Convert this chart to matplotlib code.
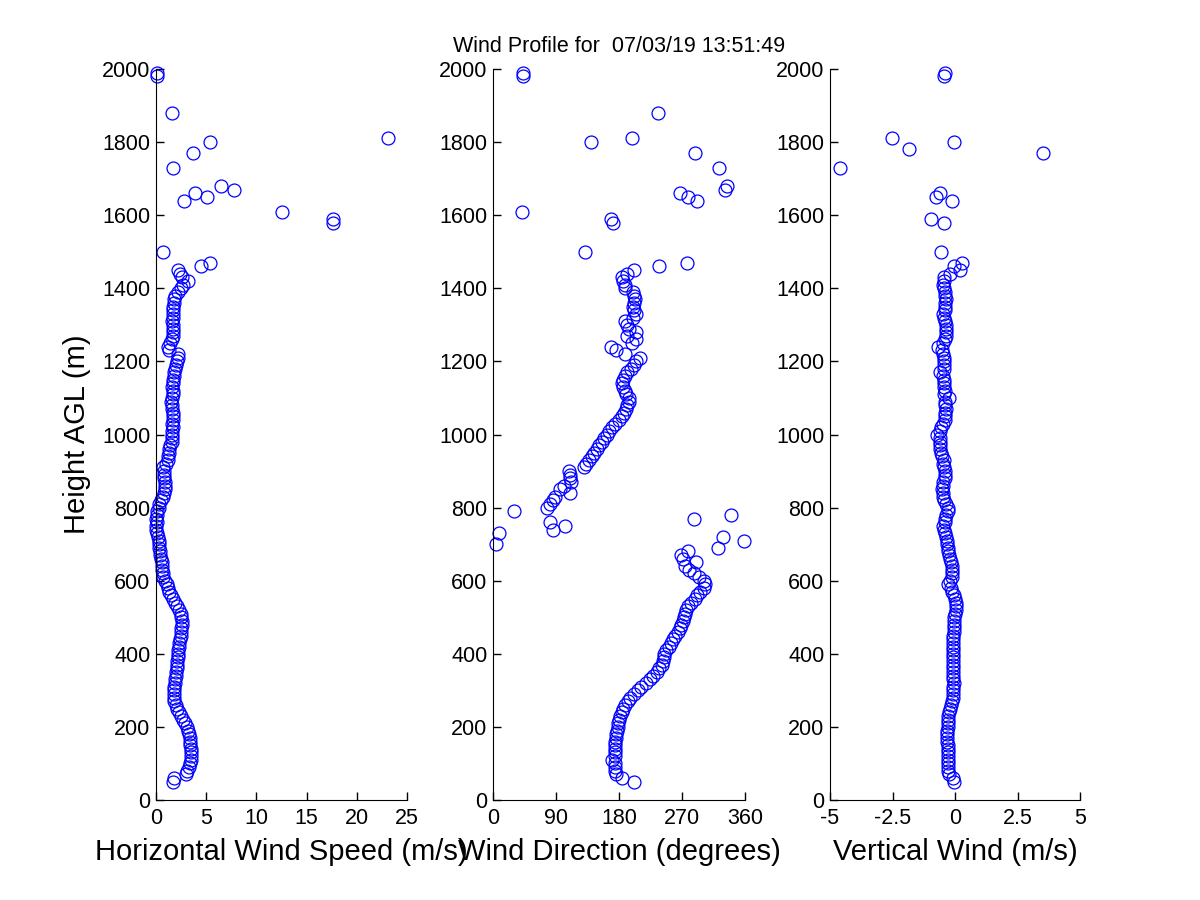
import numpy as np
import matplotlib
matplotlib.use("Agg")
import matplotlib.pyplot as plt

nan = np.nan

# range gates (m AGL)
alturas = [
    50, 60, 70, 80, 90, 100, 110, 120, 130, 140,
    150, 160, 170, 180, 190, 200, 210, 220, 230, 240,
    250, 260, 270, 280, 290, 300, 310, 320, 330, 340,
    350, 360, 370, 380, 390, 400, 410, 420, 430, 440,
    450, 460, 470, 480, 490, 500, 510, 520, 530, 540,
    550, 560, 570, 580, 590, 600, 610, 620, 630, 640,
    650, 660, 670, 680, 690, 700, 710, 720, 730, 740,
    750, 760, 770, 780, 790, 800, 810, 820, 830, 840,
    850, 860, 870, 880, 890, 900, 910, 920, 930, 940,
    950, 960, 970, 980, 990, 1000, 1010, 1020, 1030, 1040,
    1050, 1060, 1070, 1080, 1090, 1100, 1110, 1120, 1130, 1140,
    1150, 1160, 1170, 1180, 1190, 1200, 1210, 1220, 1230, 1240,
    1250, 1260, 1270, 1280, 1290, 1300, 1310, 1320, 1330, 1340,
    1350, 1360, 1370, 1380, 1390, 1400, 1410, 1420, 1430, 1440,
    1450, 1460, 1470, 1500, 1580, 1590, 1610, 1640, 1650, 1660,
    1670, 1680, 1730, 1770, 1780, 1800, 1810, 1880, 1980, 1990,
]

# horizontal wind speed (m/s)
velocidad = [
    1.7, 1.8, 3.0, 3.1, 3.3, 3.4, 3.5, 3.5, 3.5, 3.5,
    3.4, 3.4, 3.4, 3.3, 3.2, 3.1, 2.9, 2.7, 2.5, 2.3,
    2.1, 2.0, 1.8, 1.8, 1.8, 1.8, 1.8, 1.9, 1.9, 2.0,
    2.0, 2.1, 2.1, 2.1, 2.2, 2.2, 2.2, 2.3, 2.3, 2.4,
    2.5, 2.5, 2.5, 2.6, 2.6, 2.5, 2.5, 2.3, 2.1, 1.9,
    1.7, 1.5, 1.3, 1.2, 1.1, 0.9, 0.7, 0.7, 0.6, 0.6,
    0.6, 0.5, 0.4, 0.4, 0.3, 0.3, 0.3, 0.2, 0.1, 0.0,
    0.0, 0.1, 0.0, 0.1, 0.1, 0.3, 0.3, 0.5, 0.7, 0.8,
    0.9, 0.9, 0.9, 0.8, 0.8, 0.8, 0.7, 1.0, 1.2, 1.2,
    1.3, 1.3, 1.4, 1.6, 1.6, 1.6, 1.6, 1.7, 1.6, 1.7,
    1.7, 1.7, 1.6, 1.6, 1.5, 1.6, 1.7, 1.7, 1.6, 1.7,
    1.7, 1.8, 1.8, 1.9, 2.0, 2.1, 2.2, 2.2, 1.3, 1.2,
    1.4, 1.6, 1.7, 1.7, 1.7, 1.7, 1.6, 1.7, 1.7, 1.7,
    1.7, 1.8, 1.8, 1.9, 2.2, 2.5, 2.7, 3.2, 2.6, 2.4,
    2.2, 4.5, 5.4, 0.7, 17.6, 17.6, 12.5, 2.8, 5.1, 3.9,
    7.8, 6.5, 1.7, 3.7, nan, 5.4, 23.1, 1.6, 0.1, 0.1,
]

# wind direction (degrees)
direccion = [
    202, 185, 176, 175, 175, 175, 170, 175, 174, 174,
    175, 175, 176, 176, 177, 178, 179, 180, 182, 184,
    186, 189, 193, 196, 202, 207, 212, 219, 224, 229,
    234, 237, 241, 243, 244, 245, 247, 251, 254, 257,
    260, 264, 267, 268, 271, 273, 274, 276, 279, 283,
    288, 292, 296, 302, 303, 301, 294, 287, 280, 274,
    290, 272, 269, 278, 322, 4, 359, 328, 9, 86,
    103, 81, 287, 340, 30, 77, 82, 86, 89, 110,
    96, 102, 111, 110, 110, 109, 130, 133, 137, 142,
    145, 148, 152, 156, 159, 163, 166, 170, 174, 180,
    184, 187, 190, 192, 194, 194, 190, 189, 186, 185,
    186, 188, 192, 197, 202, 204, 210, 188, 176, 168,
    198, 204, 192, 204, 195, 191, 189, 200, 204, 202,
    200, 202, 203, 202, 200, 189, 189, 186, 185, 191,
    201, 237, 277, 131, 171, 169, 41, 291, 279, 267,
    332, 334, 323, 288, nan, 140, 199, 236, 43.5, 43.5,
]

# vertical wind (m/s)
vertical = [
    -0.04, -0.10, -0.23, -0.27, -0.27, -0.27, -0.27, -0.28, -0.27, -0.30,
    -0.30, -0.32, -0.33, -0.33, -0.31, -0.30, -0.30, -0.28, -0.27, -0.23,
    -0.20, -0.17, -0.12, -0.09, -0.08, -0.07, -0.07, -0.06, -0.07, -0.08,
    -0.10, -0.10, -0.10, -0.09, -0.08, -0.09, -0.10, -0.09, -0.08, -0.07,
    -0.07, -0.06, -0.05, -0.04, -0.03, -0.04, -0.02, 0.02, 0.05, 0.03,
    0.00, -0.05, -0.12, -0.18, -0.27, -0.20, -0.14, -0.13, -0.12, -0.13,
    -0.15, -0.20, -0.25, -0.27, -0.30, -0.32, -0.33, -0.35, -0.40, -0.45,
    -0.47, -0.42, -0.40, -0.35, -0.28, -0.30, -0.38, -0.44, -0.47, -0.50,
    -0.53, -0.50, -0.47, -0.42, -0.40, -0.42, -0.45, -0.47, -0.45, -0.53,
    -0.55, -0.60, -0.60, -0.62, -0.60, -0.73, -0.60, -0.55, -0.50, -0.42,
    -0.40, -0.40, -0.38, -0.40, -0.42, -0.25, -0.45, -0.42, -0.44, -0.44,
    -0.45, -0.50, -0.60, -0.45, -0.44, -0.43, -0.45, -0.50, -0.53, -0.70,
    -0.50, -0.40, -0.37, -0.35, -0.35, -0.35, -0.40, -0.45, -0.50, -0.42,
    -0.40, -0.40, -0.38, -0.40, -0.42, -0.45, -0.50, -0.45, -0.44, -0.20,
    0.20, -0.03, 0.27, -0.56, -0.43, -0.96, nan, -0.12, -0.76, -0.60,
    nan, nan, -4.6, 3.52, -1.84, -0.04, -2.53, nan, -0.44, -0.40,
]

plt.rcParams["font.family"] = ["Liberation Sans", "DejaVu Sans"]

fig = plt.figure(figsize=(12, 9), dpi=100)
posiciones = [
    [0.130, 0.1111, 0.2092, 0.8122],
    [0.4108, 0.1111, 0.2100, 0.8122],
    [0.6917, 0.1111, 0.2083, 0.8122],
]
paneles = [
    (velocidad, (0, 25), [0, 5, 10, 15, 20, 25], ["0", "5", "10", "15", "20", "25"],
     "Horizontal Wind Speed (m/s)"),
    (direccion, (0, 360), [0, 90, 180, 270, 360], ["0", "90", "180", "270", "360"],
     "Wind Direction (degrees)"),
    (vertical, (-5, 5), [-5, -2.5, 0, 2.5, 5], ["-5", "-2.5", "0", "2.5", "5"],
     "Vertical Wind (m/s)"),
]

ejes = []
for pos, (valores, lim, ticks, etiquetas, titulo_x) in zip(posiciones, paneles):
    ax = fig.add_axes(pos)
    # marcadores completos aunque caigan sobre el borde (como en MATLAB)
    ax.plot(valores, alturas, "o", mfc="none", mec=(0, 0, 1), mew=0.9,
            ms=9.3, linestyle="none", clip_on=False)
    ax.set_xlim(*lim)
    ax.set_ylim(0, 2000)
    ax.set_xticks(ticks)
    ax.set_xticklabels(etiquetas)
    ax.set_yticks(range(0, 2001, 200))
    ax.spines["top"].set_visible(False)
    ax.spines["right"].set_visible(False)
    ax.tick_params(direction="in", length=6, width=1.0, labelsize=15.5)
    ax.tick_params(axis="x", pad=6)
    ax.tick_params(axis="y", pad=4)
    ax.set_xlabel(titulo_x, fontsize=21, labelpad=6)
    ejes.append(ax)

ejes[0].set_ylabel("Height AGL (m)", fontsize=21, labelpad=8)
ejes[1].set_title("Wind Profile for  07/03/19 13:51:49", fontsize=15.5, pad=12)

fig.savefig("out.png", dpi=100)
